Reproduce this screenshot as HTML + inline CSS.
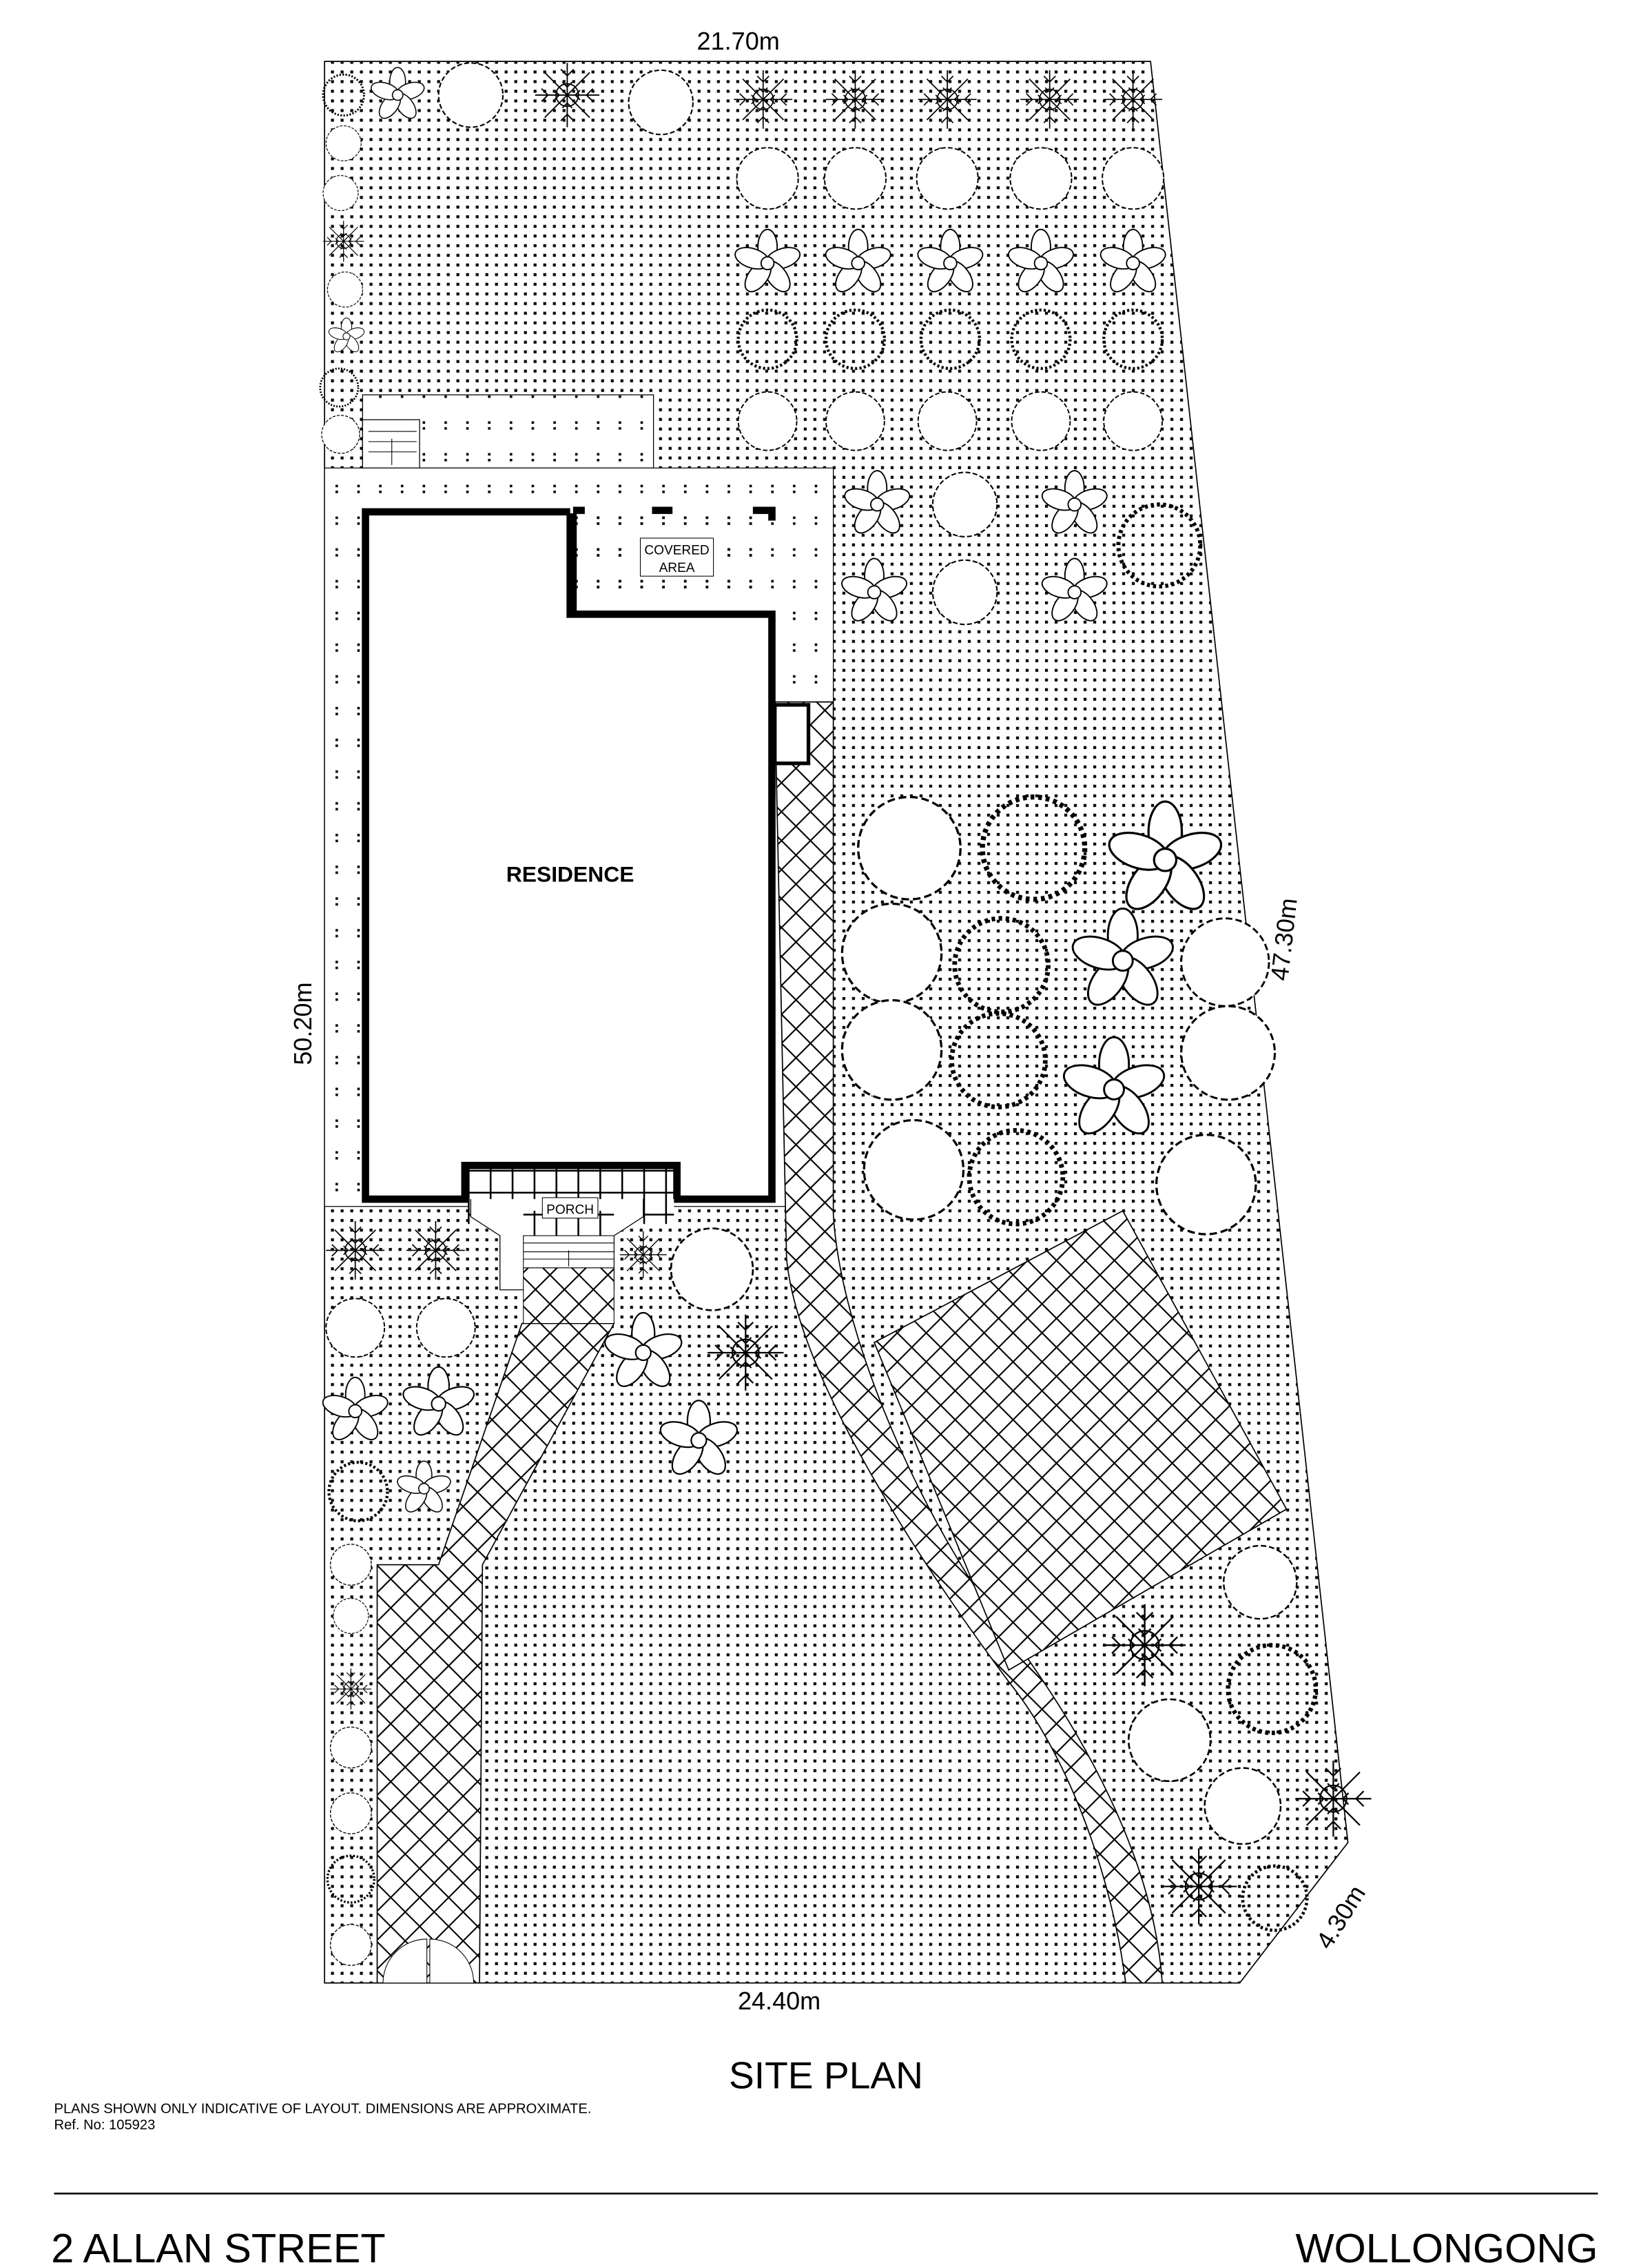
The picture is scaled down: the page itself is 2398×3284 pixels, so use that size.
<!DOCTYPE html>
<html><head><meta charset="utf-8"><style>
html,body{margin:0;padding:0;background:#fff}
svg{display:block}
text{font-family:"Liberation Sans",sans-serif;fill:#000}
</style></head><body>
<svg width="2398" height="3284" viewBox="0 0 1130 1547.5" xmlns="http://www.w3.org/2000/svg">
<defs>
<pattern id="lawn" width="6.6" height="6.6" patternUnits="userSpaceOnUse">
<rect x="2" y="2" width="2" height="2" fill="#000"/>
</pattern>
<pattern id="deck" width="14.9" height="21.7" patternUnits="userSpaceOnUse">
<rect x="6" y="6" width="1.7" height="1.7" fill="#000"/>
<rect x="6" y="10" width="1.7" height="1.7" fill="#000"/>
</pattern>
<pattern id="brick" width="14" height="14" patternUnits="userSpaceOnUse" patternTransform="rotate(45)">
<rect width="14" height="14" fill="#fff"/>
<path d="M0 0H14M0 0V14" stroke="#000" stroke-width="2"/>
</pattern>
<pattern id="porchg" width="15" height="15" patternUnits="userSpaceOnUse" x="320" y="800">
<rect width="15" height="15" fill="#fff"/>
<path d="M0 0H15M0 0V15" stroke="#000" stroke-width="2.4"/>
</pattern>
<g id="star" fill="#fff" stroke="#000" stroke-width="0.8">
<ellipse cx="0" cy="-10" rx="6" ry="11"/>
<ellipse cx="0" cy="-10" rx="6" ry="11" transform="rotate(72)"/>
<ellipse cx="0" cy="-10" rx="6" ry="11" transform="rotate(144)"/>
<ellipse cx="0" cy="-10" rx="6" ry="11" transform="rotate(216)"/>
<ellipse cx="0" cy="-10" rx="6" ry="11" transform="rotate(288)"/>
<circle r="4"/>
</g>
<g id="fern" fill="none" stroke="#000" stroke-width="0.8">
<path d="M-20 0H20M0 -20V20M-14-14L14 14M-14 14L14-14"/>
<path d="M-16-4L-12 0-16 4M16-4L12 0 16 4M-4-16L0-12 4-16M-4 16L0 12 4 16M-8-3L-5 0-8 3M8-3L5 0 8 3M-3-8L0-5 3-8M-3 8L0 5 3 8"/>
<circle r="7"/>
</g>
<g id="shrub"><circle r="20" fill="#fff" stroke="#000" stroke-width="0.9" stroke-dasharray="3 1.5"/></g>
<g id="ring"><circle r="20" fill="none" stroke="#000" stroke-width="2" stroke-dasharray="1.5 1.5"/></g>
</defs>

<polygon points="222,42 787,42 922,1260 848,1356 222,1356" fill="url(#lawn)" stroke="#000" stroke-width="0.8"/>

<rect x="248" y="270" width="199" height="50" fill="#fff" stroke="#000" stroke-width="0.6"/>
<rect x="248" y="270" width="199" height="50" fill="url(#deck)"/>
<rect x="248" y="287" width="39" height="33" fill="#fff" stroke="#000" stroke-width="0.6"/>
<path d="M252 295H285M252 302H285M252 309H285M268 318V300" stroke="#000" stroke-width="0.5"/>
<path d="M222 320H570V480H553V825H222Z" fill="#fff" stroke="#000" stroke-width="0.6"/>
<path d="M222 320H570V480H553V825H222Z" fill="url(#deck)"/>

<path d="M530 480H570V830C575 920 640 1060 700 1130C750 1200 790 1280 795 1356H770C760 1280 730 1200 690 1150C630 1070 545 940 538 860Z" fill="url(#brick)" stroke="#000" stroke-width="0.8"/>
<polygon points="598,918 768,828 880,1032 690,1142" fill="url(#brick)" stroke="#000" stroke-width="0.8"/>
<polygon points="357,905 420,905 330,1070 328,1356 258,1356 258,1070 300,1070" fill="url(#brick)" stroke="#000" stroke-width="0.8"/>
<path d="M262 1356A30 30 0 0 1 292 1326V1356ZM324 1356A30 30 0 0 0 294 1326V1356Z" fill="#fff" stroke="#000" stroke-width="0.5"/>

<polygon points="250,350 390,350 390,420 528,420 528,820 463,820 463,797 318,797 318,820 250,820" fill="#fff" stroke="#000" stroke-width="5"/>
<rect x="392" y="352" width="134" height="66" fill="url(#deck)"/>
<path d="M392 350V420" stroke="#000" stroke-width="5"/>
<rect x="390" y="347" width="140" height="4" fill="#fff"/>
<path d="M392 349H400M446 349H460M515 349H528V356" stroke="#000" stroke-width="5" fill="none"/>
<rect x="438" y="368" width="50" height="26" fill="#fff" stroke="#000" stroke-width="0.5"/>
<text x="463" y="379" font-size="9" text-anchor="middle">COVERED</text>
<text x="463" y="391" font-size="9" text-anchor="middle">AREA</text>
<text x="390" y="603" font-size="15" font-weight="bold" text-anchor="middle">RESIDENCE</text>
<rect x="530" y="482" width="23" height="40" fill="#fff" stroke="#000" stroke-width="2.5"/>

<rect x="320" y="799" width="141" height="38" fill="url(#porchg)"/>
<path d="M318 820V797H463V820" fill="none" stroke="#000" stroke-width="5"/>
<path d="M322 820V832L342 845V882H420V845L440 832V820" fill="#fff" stroke="#000" stroke-width="0.6"/>
<rect x="358" y="828" width="62" height="52" fill="url(#porchg)"/>
<rect x="358" y="845" width="62" height="22" fill="#fff" stroke="#000" stroke-width="0.5"/>
<path d="M358 850H420M358 856H420M358 861H420M389 866V855" stroke="#000" stroke-width="0.5"/>
<rect x="358" y="867" width="62" height="38" fill="url(#brick)" stroke="#000" stroke-width="0.5"/>
<rect x="371" y="819" width="38" height="14" fill="#fff" stroke="#000" stroke-width="0.5"/>
<text x="390" y="830" font-size="9" text-anchor="middle">PORCH</text>

<use href="#ring" transform="translate(235,65) scale(0.7)"/>
<use href="#star" transform="translate(272,65) scale(0.9)"/>
<use href="#shrub" transform="translate(322,65) scale(1.1)"/>
<use href="#fern" transform="translate(388,65) scale(1.1)"/>
<use href="#shrub" transform="translate(452,70) scale(1.1)"/>
<use href="#fern" transform="translate(522,68)"/>
<use href="#fern" transform="translate(585,68)"/>
<use href="#fern" transform="translate(648,68)"/>
<use href="#fern" transform="translate(718,68)"/>
<use href="#fern" transform="translate(775,68)"/>
<g>
<use href="#shrub" transform="translate(525,122) scale(1.05)"/><use href="#shrub" transform="translate(585,122) scale(1.05)"/><use href="#shrub" transform="translate(648,122) scale(1.05)"/><use href="#shrub" transform="translate(712,122) scale(1.05)"/><use href="#shrub" transform="translate(775,122) scale(1.05)"/>
<use href="#star" transform="translate(525,180) scale(1.1)"/><use href="#star" transform="translate(587,180) scale(1.1)"/><use href="#star" transform="translate(650,180) scale(1.1)"/><use href="#star" transform="translate(712,180) scale(1.1)"/><use href="#star" transform="translate(775,180) scale(1.1)"/>
<use href="#ring" transform="translate(525,232)"/><use href="#ring" transform="translate(585,232)"/><use href="#ring" transform="translate(650,232)"/><use href="#ring" transform="translate(712,232)"/><use href="#ring" transform="translate(775,232)"/>
<use href="#shrub" transform="translate(525,288)"/><use href="#shrub" transform="translate(585,288)"/><use href="#shrub" transform="translate(648,288)"/><use href="#shrub" transform="translate(712,288)"/><use href="#shrub" transform="translate(775,288)"/>
</g>
<use href="#shrub" transform="translate(235,98) scale(0.6)"/>
<use href="#shrub" transform="translate(233,132) scale(0.6)"/>
<use href="#fern" transform="translate(235,165) scale(0.7)"/>
<use href="#shrub" transform="translate(236,198) scale(0.6)"/>
<use href="#star" transform="translate(237,230) scale(0.6)"/>
<use href="#ring" transform="translate(232,265) scale(0.65)"/>
<use href="#shrub" transform="translate(233,297) scale(0.65)"/>

<use href="#star" transform="translate(600,345) scale(1.1)"/>
<use href="#shrub" transform="translate(660,345) scale(1.1)"/>
<use href="#star" transform="translate(735,345) scale(1.1)"/>
<use href="#star" transform="translate(598,405) scale(1.1)"/>
<use href="#shrub" transform="translate(660,405) scale(1.1)"/>
<use href="#star" transform="translate(735,405) scale(1.1)"/>
<use href="#ring" transform="translate(793,373) scale(1.4)"/>

<use href="#shrub" transform="translate(622,580) scale(1.75)"/>
<use href="#shrub" transform="translate(610,652) scale(1.7)"/>
<use href="#shrub" transform="translate(610,718) scale(1.7)"/>
<use href="#shrub" transform="translate(625,800) scale(1.7)"/>
<use href="#ring" transform="translate(707,580) scale(1.75)"/>
<use href="#ring" transform="translate(685,660) scale(1.6)"/>
<use href="#ring" transform="translate(683,725) scale(1.6)"/>
<use href="#ring" transform="translate(695,805) scale(1.6)"/>
<use href="#star" transform="translate(797,588) scale(1.9)"/>
<use href="#star" transform="translate(768,657) scale(1.7)"/>
<use href="#star" transform="translate(762,745) scale(1.7)"/>
<use href="#shrub" transform="translate(838,658) scale(1.5)"/>
<use href="#shrub" transform="translate(840,720) scale(1.6)"/>
<use href="#shrub" transform="translate(825,810) scale(1.7)"/>

<use href="#fern" transform="translate(243,855)"/>
<use href="#fern" transform="translate(298,855)"/>
<use href="#fern" transform="translate(440,858) scale(0.8)"/>
<use href="#shrub" transform="translate(487,868) scale(1.4)"/>
<use href="#shrub" transform="translate(243,908)"/>
<use href="#shrub" transform="translate(305,908)"/>
<use href="#star" transform="translate(243,965) scale(1.1)"/>
<use href="#star" transform="translate(300,960) scale(1.2)"/>
<use href="#star" transform="translate(440,925) scale(1.3)"/>
<use href="#star" transform="translate(478,985) scale(1.3)"/>
<use href="#star" transform="translate(290,1018) scale(0.9)"/>
<use href="#fern" transform="translate(510,925) scale(1.3)"/>
<use href="#ring" transform="translate(245,1020)"/>
<use href="#shrub" transform="translate(240,1070) scale(0.7)"/>
<use href="#shrub" transform="translate(240,1105) scale(0.6)"/>
<use href="#fern" transform="translate(240,1155) scale(0.7)"/>
<use href="#shrub" transform="translate(240,1195) scale(0.7)"/>
<use href="#shrub" transform="translate(240,1240) scale(0.7)"/>
<use href="#ring" transform="translate(240,1285) scale(0.8)"/>
<use href="#shrub" transform="translate(240,1330) scale(0.7)"/>

<use href="#shrub" transform="translate(862,1082) scale(1.25)"/>
<use href="#fern" transform="translate(783,1125) scale(1.4)"/>
<use href="#ring" transform="translate(870,1155) scale(1.5)"/>
<use href="#shrub" transform="translate(800,1190) scale(1.4)"/>
<use href="#shrub" transform="translate(850,1235) scale(1.3)"/>
<use href="#fern" transform="translate(912,1230) scale(1.3)"/>
<use href="#fern" transform="translate(820,1290) scale(1.3)"/>
<use href="#ring" transform="translate(872,1298) scale(1.1)"/>

<text x="505" y="34" font-size="17" text-anchor="middle">21.70m</text>
<text x="533" y="1374" font-size="17" text-anchor="middle">24.40m</text>
<text transform="translate(213,700) rotate(-90)" font-size="17" text-anchor="middle">50.20m</text>
<text transform="translate(884,643) rotate(-83.5)" font-size="17" text-anchor="middle">47.30m</text>
<text transform="translate(922,1314) rotate(-58)" font-size="17" text-anchor="middle">4.30m</text>

<text x="565" y="1428" font-size="26" text-anchor="middle">SITE PLAN</text>
<text x="37" y="1445" font-size="9.5">PLANS SHOWN ONLY INDICATIVE OF LAYOUT.  DIMENSIONS ARE APPROXIMATE.</text>
<text x="37" y="1456" font-size="9.5">Ref. No: 105923</text>
<line x1="37" y1="1500" x2="1093" y2="1500" stroke="#000" stroke-width="1.2"/>
<text x="35" y="1547" font-size="28">2 ALLAN STREET</text>
<text x="1093" y="1547" font-size="28" text-anchor="end">WOLLONGONG</text>
</svg>
</body></html>
